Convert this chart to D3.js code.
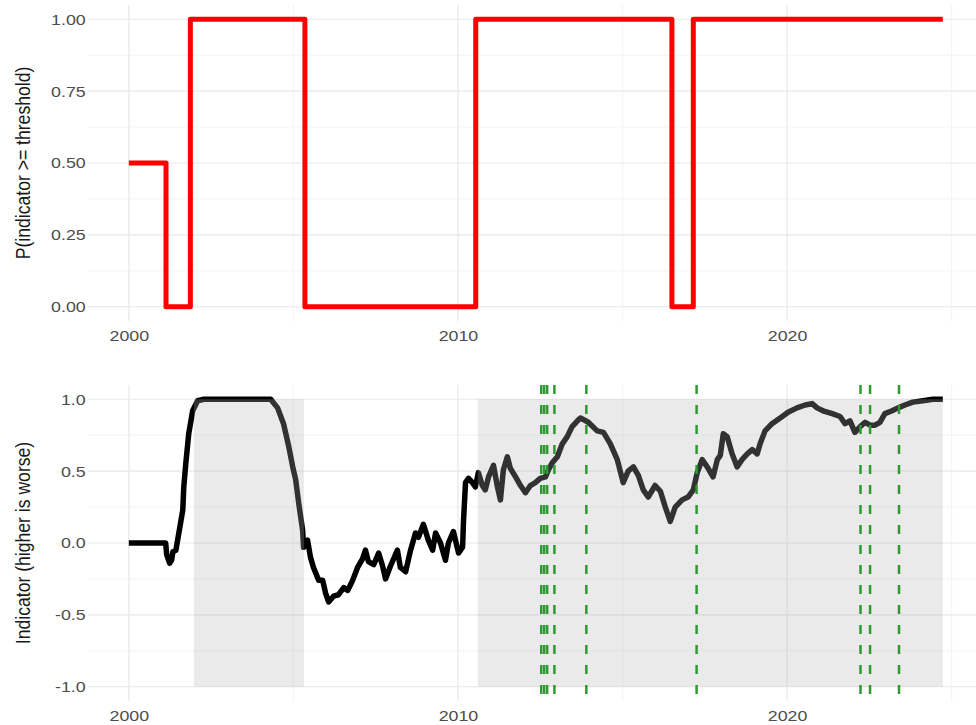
<!DOCTYPE html>
<html>
<head>
<meta charset="utf-8">
<script src="https://cdn.jsdelivr.net/npm/d3@7"></script>
<style>
  body { margin: 0; background: #fff; }
  svg { display: block; font-family: "Liberation Sans", Arial, sans-serif; }
</style>
</head>
<body>
<svg id="chart" width="976" height="725"></svg>
<script>
// top panel: probability that the indicator is at or above threshold (step series)
var probYears  = [2000, 2001.13, 2001.87, 2005.35, 2010.54, 2016.5, 2017.15, 2024.73];
var probValues = [0.5, 0, 1, 0, 1, 0, 1, 1];

// bottom panel: indicator series
var indYears = [
  2000.00, 2001.12, 2001.15, 2001.24, 2001.30, 2001.34, 2001.43, 2001.52, 2001.64, 2001.67,
  2001.73, 2001.82, 2001.94, 2002.09, 2002.28, 2004.31, 2004.52, 2004.70, 2004.86, 2004.98,
  2005.07, 2005.16, 2005.28, 2005.31, 2005.43, 2005.52, 2005.61, 2005.77, 2005.89, 2005.98,
  2006.07, 2006.22, 2006.37, 2006.53, 2006.65, 2006.80, 2006.95, 2007.10, 2007.19, 2007.28,
  2007.44, 2007.59, 2007.71, 2007.80, 2007.95, 2008.16, 2008.25, 2008.41, 2008.56, 2008.71,
  2008.80, 2008.95, 2009.10, 2009.23, 2009.32, 2009.47, 2009.62, 2009.71, 2009.86, 2010.02,
  2010.14, 2010.17, 2010.23, 2010.32, 2010.44, 2010.53, 2010.62, 2010.74, 2010.83, 2010.93,
  2011.08, 2011.20, 2011.29, 2011.38, 2011.50, 2011.59, 2011.75, 2011.90, 2012.05, 2012.20,
  2012.35, 2012.50, 2012.66, 2012.75, 2012.87, 2013.02, 2013.17, 2013.32, 2013.47, 2013.63,
  2013.72, 2013.96, 2014.23, 2014.42, 2014.63, 2014.84, 2015.02, 2015.17, 2015.33, 2015.48,
  2015.63, 2015.78, 2015.99, 2016.15, 2016.30, 2016.45, 2016.60, 2016.81, 2016.99, 2017.15,
  2017.27, 2017.42, 2017.60, 2017.75, 2017.88, 2017.97, 2018.06, 2018.18, 2018.33, 2018.48,
  2018.63, 2018.79, 2018.94, 2019.09, 2019.18, 2019.33, 2019.54, 2019.79, 2020.03, 2020.30,
  2020.55, 2020.76, 2020.91, 2021.09, 2021.37, 2021.61, 2021.76, 2021.91, 2022.06, 2022.22,
  2022.37, 2022.52, 2022.67, 2022.82, 2022.97, 2023.19, 2023.37, 2023.58, 2023.82, 2024.13,
  2024.43, 2024.73
];
var indValues = [
  0, 0, -0.08, -0.14, -0.12, -0.06, -0.05, 0.07, 0.23, 0.39,
  0.55, 0.76, 0.92, 0.99, 1.0, 1.0, 0.94, 0.83, 0.67, 0.53,
  0.44, 0.28, 0.09, -0.03, 0.02, -0.10, -0.17, -0.26, -0.26, -0.35,
  -0.41, -0.37, -0.36, -0.31, -0.33, -0.26, -0.17, -0.11, -0.05, -0.13,
  -0.15, -0.07, -0.16, -0.25, -0.16, -0.05, -0.17, -0.20, -0.05, 0.07,
  0.04, 0.13, 0.02, -0.05, 0.07, 0.00, -0.12, 0.00, 0.08, -0.07,
  -0.03, 0.16, 0.42, 0.45, 0.42, 0.39, 0.49, 0.40, 0.37, 0.46,
  0.54, 0.39, 0.30, 0.51, 0.60, 0.52, 0.46, 0.40, 0.35, 0.40,
  0.42, 0.45, 0.46, 0.51, 0.56, 0.60, 0.69, 0.74, 0.81, 0.85,
  0.87, 0.84, 0.78, 0.77, 0.69, 0.58, 0.42, 0.50, 0.53, 0.47,
  0.37, 0.32, 0.40, 0.36, 0.25, 0.15, 0.25, 0.30, 0.32, 0.37,
  0.49, 0.58, 0.52, 0.46, 0.58, 0.61, 0.76, 0.74, 0.62, 0.53,
  0.58, 0.62, 0.65, 0.62, 0.69, 0.78, 0.83, 0.87, 0.91, 0.94,
  0.96, 0.97, 0.94, 0.92, 0.90, 0.88, 0.83, 0.85, 0.77, 0.81,
  0.84, 0.82, 0.82, 0.84, 0.90, 0.92, 0.94, 0.96, 0.98, 0.99,
  1.0, 1.0
];

// shaded periods and event markers in the bottom panel
var shadeStart = [2001.98, 2010.60];
var shadeEnd   = [2005.32, 2024.73];
var eventYears = [2012.53, 2012.62, 2012.71, 2012.93, 2013.90, 2017.25, 2022.23, 2022.52, 2023.40];

var xMajor = [2000, 2010, 2020];
var xMinor = [2005, 2015, 2025];
var topMajor = [0, 0.25, 0.5, 0.75, 1];
var topMinor = [0.125, 0.375, 0.625, 0.875];
var botMajor = [-1, -0.5, 0, 0.5, 1];
var botMinor = [-0.75, -0.25, 0.25, 0.75];

var svg = d3.select("#chart");
var stretch = "scale(1.15,1)";

var x = d3.scaleLinear().domain([1998.76, 2025.83]).range([88, 979]);
var yTop = d3.scaleLinear().domain([-0.05, 1.05]).range([321.1, 4.9]);
var yBot = d3.scaleLinear().domain([-1.1, 1.1]).range([701.1, 384.9]);

function grid(y, major, minor) {
  var g = svg.append("g");
  var top = y.range()[1], bottom = y.range()[0];
  g.selectAll(".hmin").data(minor).enter().append("line")
      .attr("x1", x.range()[0]).attr("x2", x.range()[1])
      .attr("y1", y).attr("y2", y)
      .attr("stroke", "#f0f0f0").attr("stroke-width", 0.8);
  g.selectAll(".vmin").data(xMinor).enter().append("line")
      .attr("x1", x).attr("x2", x)
      .attr("y1", top).attr("y2", bottom)
      .attr("stroke", "#f0f0f0").attr("stroke-width", 0.8);
  g.selectAll(".hmaj").data(major).enter().append("line")
      .attr("x1", x.range()[0]).attr("x2", x.range()[1])
      .attr("y1", y).attr("y2", y)
      .attr("stroke", "#e8e8e8").attr("stroke-width", 1.2);
  g.selectAll(".vmaj").data(xMajor).enter().append("line")
      .attr("x1", x).attr("x2", x)
      .attr("y1", top).attr("y2", bottom)
      .attr("stroke", "#e8e8e8").attr("stroke-width", 1.2);
}

function axes(y, major, fmt, title) {
  var bottom = y.range()[0];
  var ax = svg.append("g")
      .attr("transform", "translate(0," + bottom + ")")
      .call(d3.axisBottom(x).tickValues(xMajor).tickFormat(d3.format("d")).tickSize(0).tickPadding(8.5));
  var ay = svg.append("g")
      .attr("transform", "translate(" + x.range()[0] + ",0)")
      .call(d3.axisLeft(y).tickValues(major).tickFormat(function(d) { return fmt(d).replace("\u2212", "-"); }).tickSize(0).tickPadding(2));
  [ax, ay].forEach(function(a) {
    a.select(".domain").remove();
    a.selectAll("text")
        .attr("fill", "#4d4d4d")
        .style("font-size", "15.5px")
        .attr("transform", stretch);
  });
  var cy = (y.range()[0] + y.range()[1]) / 2;
  svg.append("text")
      .attr("transform", "translate(22.5," + cy + ") " + stretch + " rotate(-90)")
      .attr("text-anchor", "middle")
      .attr("dy", "0.35em")
      .attr("fill", "#1a1a1a")
      .style("font-size", "17.6px")
      .text(title);
}

// ---- top panel ----
grid(yTop, topMajor, topMinor);

var probData = probYears.map(function(d, i) { return [d, probValues[i]]; });
svg.append("path")
    .datum(probData)
    .attr("fill", "none")
    .attr("stroke", "#ff0000")
    .attr("stroke-width", 5)
    .attr("stroke-linejoin", "round")
    .attr("d", d3.line().curve(d3.curveStepAfter)
      .x(function(d) { return x(d[0]); })
      .y(function(d) { return yTop(d[1]); }));

axes(yTop, topMajor, d3.format(".2f"), "P(indicator >= threshold)");

// ---- bottom panel ----
grid(yBot, botMajor, botMinor);

var indData = indYears.map(function(d, i) { return [d, indValues[i]]; });
svg.append("path")
    .datum(indData)
    .attr("fill", "none")
    .attr("stroke", "#000")
    .attr("stroke-width", 5.5)
    .attr("stroke-linejoin", "round")
    .attr("d", d3.line()
      .x(function(d) { return x(d[0]); })
      .y(function(d) { return yBot(d[1]); }));

// translucent shading goes over the line, like the original
svg.append("g").selectAll("rect")
    .data(shadeStart)
    .enter().append("rect")
      .attr("x", function(d) { return x(d); })
      .attr("width", function(d, i) { return x(shadeEnd[i]) - x(d); })
      .attr("y", yBot(1))
      .attr("height", yBot(-1) - yBot(1))
      .attr("fill", "#b3b3b3")
      .attr("fill-opacity", 0.28);

svg.append("g").selectAll("line")
    .data(eventYears)
    .enter().append("line")
      .attr("x1", x).attr("x2", x)
      .attr("y1", yBot.range()[1]).attr("y2", yBot.range()[0])
      .attr("stroke", "#2f9a2f")
      .attr("stroke-width", 2.5)
      .attr("stroke-dasharray", "9,11");

axes(yBot, botMajor, d3.format(".1f"), "Indicator (higher is worse)");
</script>
</body>
</html>
